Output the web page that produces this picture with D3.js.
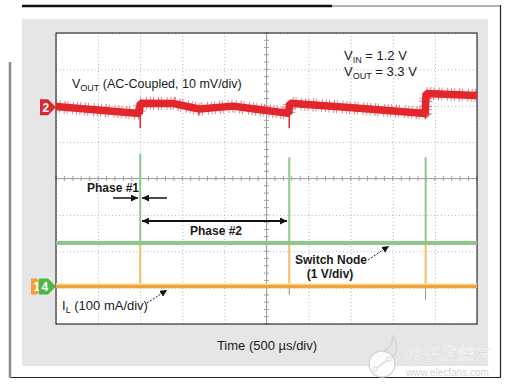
<!DOCTYPE html>
<html>
<head>
<meta charset="utf-8">
<script src="https://cdn.jsdelivr.net/npm/d3@7"></script>
<style>
  body { margin: 0; background: #fff; }
  text { font-family: "Liberation Sans", Arial, sans-serif; fill: #1a1a1a; }
  .grid line { stroke: #b3b3b3; stroke-dasharray: 1, 2.5; }
  .grid path { display: none; }
  .bold { font-weight: bold; }
</style>
</head>
<body>
<div id="chart"></div>
<script>
// time base: 10 div x 500 us, vertical: 8 div
var timeTicks = d3.range(0, 5001, 500);
var divTicks = d3.range(-4, 5, 1);
var minorTime = d3.range(0, 5001, 100);
var minorDiv = d3.range(-4, 4.01, 0.2);

// Ch2 V_OUT (AC coupled, 10 mV/div), mV relative to its marker
var vOutT  = [0, 990, 1000, 1400, 1700, 2100, 2765, 2775, 3600, 4385, 4395, 5000];
var vOutMv = [0.2, -1.7, 1.1, 1.0, -0.5, 0.3, -1.7, 1.1, -0.3, -1.7, 3.8, 3.2];

// switching events (us)
var switchT = [1000, 2770, 4390];
var vOutDipMv = [-5.8, -5.8, -3.0];

// Ch4 switch node (1 V/div)
var swLevelV = 1.2;
var swPeakV = [3.65, 3.55, 3.55];
var swUnderV = [0, -0.23, -0.37];

// Ch1 inductor current (100 mA/div)
var ilLevelMa = 0;
var ilPeakMa = [120, 120, 120];

// channel reference positions (div from center)
var ch2Offset = 1.96, ch14Offset = -2.97;

var plot = { left: 56, top: 33, width: 421, height: 291 };

var svg = d3.select("#chart").append("svg")
  .attr("width", 513).attr("height", 388);

// frame and grey panel
svg.append("rect").attr("x", 22).attr("y", 19).attr("width", 466).attr("height", 347).attr("fill", "#e6e6e6");
svg.append("line").attr("x1", 22).attr("x2", 332).attr("y1", 6).attr("y2", 6).attr("stroke", "#111").attr("stroke-width", 2.5);
svg.append("line").attr("x1", 332).attr("x2", 501).attr("y1", 6).attr("y2", 6).attr("stroke", "#999").attr("stroke-width", 1.5);
svg.append("line").attr("x1", 500.5).attr("x2", 500.5).attr("y1", 5).attr("y2", 378).attr("stroke", "#222").attr("stroke-width", 1.2);
svg.append("line").attr("x1", 10).attr("x2", 501).attr("y1", 377.5).attr("y2", 377.5).attr("stroke", "#222").attr("stroke-width", 1.2);
svg.append("line").attr("x1", 10).attr("x2", 10).attr("y1", 62).attr("y2", 378).attr("stroke", "#8a8a8a").attr("stroke-width", 2.5);

var g = svg.append("g").attr("transform", "translate(" + plot.left + "," + plot.top + ")");
g.append("rect").attr("width", plot.width).attr("height", plot.height).attr("fill", "#fff");

var x = d3.scaleLinear().domain([0, 5000]).range([0, plot.width]);
var y = d3.scaleLinear().domain([-4, 4]).range([plot.height, 0]);

var yCh2 = function (mv) { return y(ch2Offset + mv / 10); };
var yCh4 = function (v) { return y(ch14Offset + v / 1); };
var yCh1 = function (ma) { return y(ch14Offset + ma / 100); };

// gridlines
g.append("g").attr("class", "grid")
  .attr("transform", "translate(0," + plot.height + ")")
  .call(d3.axisBottom(x).tickValues(timeTicks).tickSize(-plot.height).tickFormat(""));
g.append("g").attr("class", "grid")
  .call(d3.axisLeft(y).tickValues(divTicks).tickSize(-plot.width).tickFormat(""));

// center cross with minor ticks
g.append("line").attr("x1", x(2500)).attr("x2", x(2500)).attr("y1", 0).attr("y2", plot.height).attr("stroke", "#a0a0a0");
g.append("line").attr("x1", 0).attr("x2", plot.width).attr("y1", y(0)).attr("y2", y(0)).attr("stroke", "#a0a0a0");
g.selectAll(".tx").data(minorTime).enter().append("line")
  .attr("x1", function (d) { return x(d); }).attr("x2", function (d) { return x(d); })
  .attr("y1", y(0) - 2.5).attr("y2", y(0) + 2.5).attr("stroke", "#a0a0a0");
g.selectAll(".ty").data(minorDiv).enter().append("line")
  .attr("y1", function (d) { return y(d); }).attr("y2", function (d) { return y(d); })
  .attr("x1", x(2500) - 2.5).attr("x2", x(2500) + 2.5).attr("stroke", "#a0a0a0");

g.append("rect").attr("width", plot.width).attr("height", plot.height)
  .attr("fill", "none").attr("stroke", "#111").attr("stroke-width", 1);

// --- Ch1 IL (orange)
var ilColor = "#f0a33a";
g.selectAll(".ilspike").data(switchT).enter().append("line")
  .attr("x1", function (d) { return x(d); }).attr("x2", function (d) { return x(d); })
  .attr("y1", yCh1(ilLevelMa)).attr("y2", function (d, i) { return yCh1(ilPeakMa[i]); })
  .attr("stroke", "#f4bb6c").attr("stroke-width", 2);
g.selectAll(".swunder").data(switchT).enter().append("line")
  .attr("x1", function (d) { return x(d); }).attr("x2", function (d) { return x(d); })
  .attr("y1", yCh4(0)).attr("y2", function (d, i) { return yCh4(swUnderV[i]); })
  .attr("stroke", "#8a9470").attr("stroke-width", 1);
g.append("line").attr("x1", 0).attr("x2", plot.width)
  .attr("y1", yCh1(ilLevelMa) - 2.2).attr("y2", yCh1(ilLevelMa) - 2.2)
  .attr("stroke", "#fbe4a6").attr("stroke-width", 2);
g.append("line").attr("x1", 0).attr("x2", plot.width)
  .attr("y1", yCh1(ilLevelMa)).attr("y2", yCh1(ilLevelMa))
  .attr("stroke", ilColor).attr("stroke-width", 3.5);

// --- Ch4 switch node (green)
var swColor = "#8dc88a";
g.append("line").attr("x1", 0).attr("x2", plot.width)
  .attr("y1", yCh4(swLevelV)).attr("y2", yCh4(swLevelV))
  .attr("stroke", swColor).attr("stroke-width", 4);
g.selectAll(".swspike").data(switchT).enter().append("line")
  .attr("x1", function (d) { return x(d); }).attr("x2", function (d) { return x(d); })
  .attr("y1", yCh4(swLevelV)).attr("y2", function (d, i) { return yCh4(swPeakV[i]); })
  .attr("stroke", swColor).attr("stroke-width", 2);

// --- Ch2 VOUT (red)
var redColor = "#e3262b";
var vOutData = vOutT.map(function (t, i) { return [t, vOutMv[i]]; });
var vLine = d3.line().x(function (d) { return x(d[0]); }).y(function (d) { return yCh2(d[1]); });
g.selectAll(".dip").data(switchT).enter().append("line")
  .attr("x1", function (d) { return x(d); }).attr("x2", function (d) { return x(d); })
  .attr("y1", yCh2(0)).attr("y2", function (d, i) { return yCh2(vOutDipMv[i]); })
  .attr("stroke", redColor).attr("stroke-width", 1.5);
g.append("path").datum(vOutData).attr("d", vLine)
  .attr("fill", "none").attr("stroke", redColor).attr("stroke-width", 13)
  .attr("stroke-linejoin", "bevel")
  .attr("stroke-dasharray", "0.8 2.5 0.8 4 1 2 0.8 5 0.8 3")
  .attr("opacity", 0.7);
g.append("path").datum(vOutData).attr("d", vLine)
  .attr("fill", "none").attr("stroke", redColor).attr("stroke-width", 7.5)
  .attr("stroke-linejoin", "bevel");

// channel markers
function marker(x0, x1, yc, color, label) {
  svg.append("path")
    .attr("d", "M" + x0 + "," + (yc - 8) + "L" + (x1 - 8) + "," + (yc - 8) + "L" + x1 + "," + yc +
      "L" + (x1 - 8) + "," + (yc + 8) + "L" + x0 + "," + (yc + 8) + "Z")
    .attr("fill", color);
  svg.append("text").attr("x", x0 + 2.5).attr("y", yc + 4.5)
    .style("fill", "#fff").style("font-weight", "bold").style("font-size", "12px").text(label);
}
marker(40, plot.left, plot.top + yCh2(0), "#d42a30", "2");
marker(31, 45, plot.top + yCh1(0), "#f0a03e", "1");
marker(39, plot.left, plot.top + yCh4(0), "#4cb84a", "4");

// arrows
var defs = svg.append("defs");
defs.append("marker").attr("id", "ah").attr("viewBox", "0 0 10 10")
  .attr("refX", 10).attr("refY", 5).attr("markerWidth", 7).attr("markerHeight", 7)
  .attr("markerUnits", "userSpaceOnUse").attr("orient", "auto-start-reverse")
  .append("path").attr("d", "M0,0L10,5L0,10Z").attr("fill", "#111");

function arrow(x1, y1, x2, y2, w, dash, both) {
  var l = svg.append("line").attr("x1", x1).attr("y1", y1).attr("x2", x2).attr("y2", y2)
    .attr("stroke", "#111").attr("stroke-width", w).attr("marker-end", "url(#ah)");
  if (dash) l.attr("stroke-dasharray", dash);
  if (both) l.attr("marker-start", "url(#ah)");
}
arrow(113, 198, 138, 198, 1.5);
arrow(167, 198, 142, 198, 1.5);
arrow(142, 221, 287, 221, 2, null, true);
arrow(368, 260, 389, 246, 1, "2 1.5");
arrow(147, 303, 167, 290, 1, "2 1.5");

// labels
var vo = svg.append("text").attr("x", 72).attr("y", 88).style("font-size", "12.5px");
vo.append("tspan").text("V");
vo.append("tspan").attr("dy", 3).style("font-size", "9px").text("OUT");
vo.append("tspan").attr("dy", -3).text(" (AC-Coupled, 10 mV/div)");

var vin = svg.append("text").attr("x", 344).attr("y", 60).style("font-size", "13px");
vin.append("tspan").text("V");
vin.append("tspan").attr("dy", 3).style("font-size", "9px").text("IN");
vin.append("tspan").attr("dy", -3).text(" = 1.2 V");
var vout = svg.append("text").attr("x", 344).attr("y", 76).style("font-size", "13px");
vout.append("tspan").text("V");
vout.append("tspan").attr("dy", 3).style("font-size", "9px").text("OUT");
vout.append("tspan").attr("dy", -3).text(" = 3.3 V");

svg.append("text").attr("class", "bold").attr("x", 87).attr("y", 192).style("font-size", "12px").text("Phase #1");
svg.append("text").attr("class", "bold").attr("x", 190).attr("y", 235).style("font-size", "12px").text("Phase #2");
svg.append("text").attr("class", "bold").attr("x", 295).attr("y", 264).style("font-size", "12px").text("Switch Node");
svg.append("text").attr("class", "bold").attr("x", 330).attr("y", 278).attr("text-anchor", "middle").style("font-size", "12px").text("(1 V/div)");

var il = svg.append("text").attr("x", 62).attr("y", 310).style("font-size", "13px");
il.append("tspan").text("I");
il.append("tspan").attr("dy", 3).style("font-size", "9px").text("L");
il.append("tspan").attr("dy", -3).text(" (100 mA/div)");

svg.append("text").attr("x", 267).attr("y", 350).attr("text-anchor", "middle")
  .style("font-size", "13px").text("Time (500 µs/div)");

// watermark
var wm = svg.append("g").attr("opacity", 0.9);
wm.append("circle").attr("cx", 382).attr("cy", 364).attr("r", 13).attr("fill", "#fff").attr("stroke", "#d4d4d4").attr("stroke-width", 1.5);
wm.append("path").attr("d", "M384,351 C396,344 392,335 392,335 C398,342 398,352 392,358").attr("fill", "none").attr("stroke", "#d4d4d4").attr("stroke-width", 1.5);
wm.append("line").attr("x1", 375).attr("y1", 369).attr("x2", 389).attr("y2", 359).attr("stroke", "#d4d4d4").attr("stroke-width", 1.5);
wm.append("circle").attr("cx", 375).attr("cy", 369).attr("r", 2.2).attr("fill", "#fff").attr("stroke", "#d4d4d4");
wm.append("circle").attr("cx", 389).attr("cy", 359).attr("r", 2.2).attr("fill", "#fff").attr("stroke", "#d4d4d4");
wm.append("text").attr("x", 404).attr("y", 360)
  .style("font-family", "'Noto Sans CJK SC', sans-serif").style("font-size", "17px").style("font-style", "italic")
  .style("fill", "#d0d0d0").style("stroke", "#fff").style("stroke-width", 0.5).text("电子发烧友");
wm.append("text").attr("x", 406).attr("y", 376)
  .style("font-size", "10px").style("fill", "#d0d0d0").text("www.elecfans.com");
</script>
</body>
</html>
